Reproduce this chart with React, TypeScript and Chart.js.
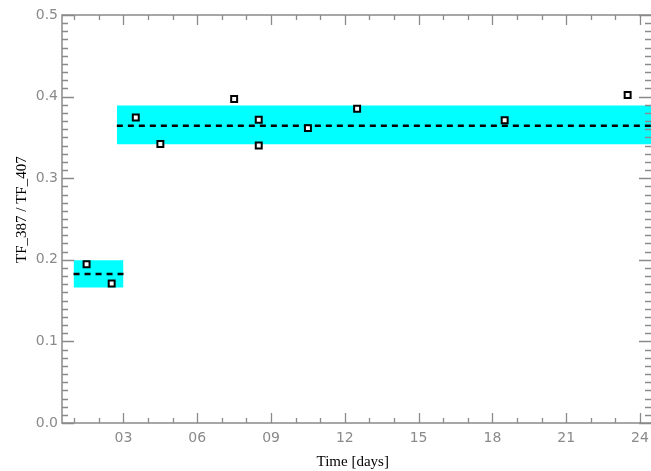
import React, { useEffect, useRef } from "react";
import { Chart, registerables } from "chart.js";

Chart.register(...registerables);

// Measurements: [day, ratio]
const pointDays = [1.5, 2.52, 3.5, 4.5, 7.5, 8.5, 8.5, 10.5, 12.5, 18.5, 23.5];
const pointRatios = [0.1946, 0.171, 0.3745, 0.342, 0.397, 0.3717, 0.34, 0.3614, 0.385, 0.371, 0.402];

// Bands: [start day, end day], lower, upper, mean
const band1Days = [0.97, 3.0];
const band1Lower = 0.166;
const band1Upper = 0.1995;
const band1Mean = 0.1827;

const band2Days = [2.73, 24.45];
const band2Lower = 0.3415;
const band2Upper = 0.389;
const band2Mean = 0.3644;

const xTickValues = [3, 6, 9, 12, 15, 18, 21, 24];
const xMin = 0.5;
const xMax = 24.45;
const yMin = 0;
const yMax = 0.5;

const CYAN = "#00ffff";
const AXIS = "#8a8a8a";

const seg = (days: number[], v: number) => days.map((d) => ({ x: d, y: v }));

const tickPlugin = {
  id: "idlTicks",
  afterDatasetsDraw(chart: any) {
    const { ctx, chartArea } = chart;
    const xs = chart.scales.x;
    const ys = chart.scales.y;
    const { left, right, top, bottom } = chartArea;
    ctx.save();
    ctx.strokeStyle = AXIS;
    ctx.lineWidth = 1.5;
    ctx.beginPath();
    ctx.moveTo(right + 2, top);
    ctx.lineTo(left, top);
    ctx.lineTo(left, bottom);
    ctx.lineTo(right + 2, bottom);
    ctx.stroke();
    ctx.lineWidth = 1.3;
    ctx.beginPath();
    for (let d = 1; d <= 24; d++) {
      if (d < xMin || d > xMax) continue;
      const px = Math.round(xs.getPixelForValue(d)) + 0.5;
      const len = d % 3 === 0 ? 10 : 5;
      ctx.moveTo(px, bottom);
      ctx.lineTo(px, bottom - len);
      ctx.moveTo(px, top);
      ctx.lineTo(px, top + len);
    }
    for (let i = 0; i <= 50; i++) {
      const py = Math.round(ys.getPixelForValue(i / 100)) + 0.5;
      const len = i % 10 === 0 ? 12 : 6;
      ctx.moveTo(left, py);
      ctx.lineTo(left + len, py);
      ctx.moveTo(right, py);
      ctx.lineTo(right - len, py);
    }
    ctx.stroke();
    ctx.restore();
  },
};

export default function App() {
  const ref = useRef<HTMLCanvasElement | null>(null);
  useEffect(() => {
    document.body.style.margin = "0";
    const canvas = ref.current;
    if (!canvas) return;
    const chart = new Chart(canvas, {
      type: "scatter",
      data: {
        datasets: [
          {
            label: "measurements",
            data: pointDays.map((d, i) => ({ x: d, y: pointRatios[i] })),
            pointStyle: "rect",
            radius: 4.2,
            borderWidth: 2,
            borderColor: "#000",
            backgroundColor: "#fff",
            order: 0,
          } as any,
          {
            type: "line",
            label: "mean1",
            data: seg(band1Days, band1Mean),
            borderColor: "#000",
            borderWidth: 2.5,
            borderDash: [6, 5],
            pointRadius: 0,
            fill: false,
            order: 1,
          },
          {
            type: "line",
            label: "mean2",
            data: seg(band2Days, band2Mean),
            borderColor: "#000",
            borderWidth: 2.5,
            borderDash: [6, 5],
            pointRadius: 0,
            fill: false,
            order: 1,
          },
          {
            type: "line",
            label: "band1 lower",
            data: seg(band1Days, band1Lower),
            borderWidth: 0,
            borderColor: CYAN,
            pointRadius: 0,
            fill: false,
            order: 3,
          },
          {
            type: "line",
            label: "band1 upper",
            data: seg(band1Days, band1Upper),
            borderWidth: 0,
            borderColor: CYAN,
            backgroundColor: CYAN,
            pointRadius: 0,
            fill: "-1",
            order: 2,
          },
          {
            type: "line",
            label: "band2 lower",
            data: seg(band2Days, band2Lower),
            borderWidth: 0,
            borderColor: CYAN,
            pointRadius: 0,
            fill: false,
            order: 3,
          },
          {
            type: "line",
            label: "band2 upper",
            data: seg(band2Days, band2Upper),
            borderWidth: 0,
            borderColor: CYAN,
            backgroundColor: CYAN,
            pointRadius: 0,
            fill: "-1",
            order: 2,
          },
        ],
      },
      options: {
        animation: false,
        responsive: true,
        maintainAspectRatio: false,
        layout: { autoPadding: false, padding: { top: 15, right: 0, left: 0, bottom: 0 } },
        plugins: { legend: { display: false }, tooltip: { enabled: false } },
        scales: {
          x: {
            type: "linear",
            min: xMin,
            max: xMax,
            grid: { display: false, drawTicks: false },
            border: { display: false },
            afterBuildTicks: (scale: any) => {
              scale.ticks = xTickValues.map((v) => ({ value: v }));
            },
            afterFit: (scale: any) => {
              scale.height = 48;
              scale.paddingRight = 0;
              scale.paddingLeft = 0;
            },
            ticks: {
              padding: 7,
              color: AXIS,
              font: { family: "DejaVu Sans", size: 14 },
              maxRotation: 0,
              autoSkip: false,
              callback: (v: any) => String(v).padStart(2, "0"),
            },
            title: {
              display: true,
              text: "Time [days]  ",
              color: "#000",
              font: { family: "Liberation Serif", size: 15 },
              padding: { top: 0, bottom: 0 },
            },
          },
          y: {
            type: "linear",
            min: yMin,
            max: yMax,
            grid: { display: false, drawTicks: false },
            border: { display: false },
            afterFit: (scale: any) => {
              scale.width = 62;
              scale.paddingTop = 0;
              scale.paddingBottom = 0;
            },
            ticks: {
              stepSize: 0.1,
              padding: 4,
              color: AXIS,
              font: { family: "DejaVu Sans", size: 14 },
              callback: (v: any) => Number(v).toFixed(1),
            },
            title: {
              display: true,
              text: "     TF_387 / TF_407",
              color: "#000",
              font: { family: "Liberation Serif", size: 15 },
              padding: { top: 13, bottom: 0 },
            },
          },
        },
      },
      plugins: [tickPlugin],
    } as any);
    return () => chart.destroy();
  }, []);
  return (
    <div style={{ position: "relative", width: 651, height: 471, background: "#fff" }}>
      <canvas ref={ref} />
    </div>
  );
}
